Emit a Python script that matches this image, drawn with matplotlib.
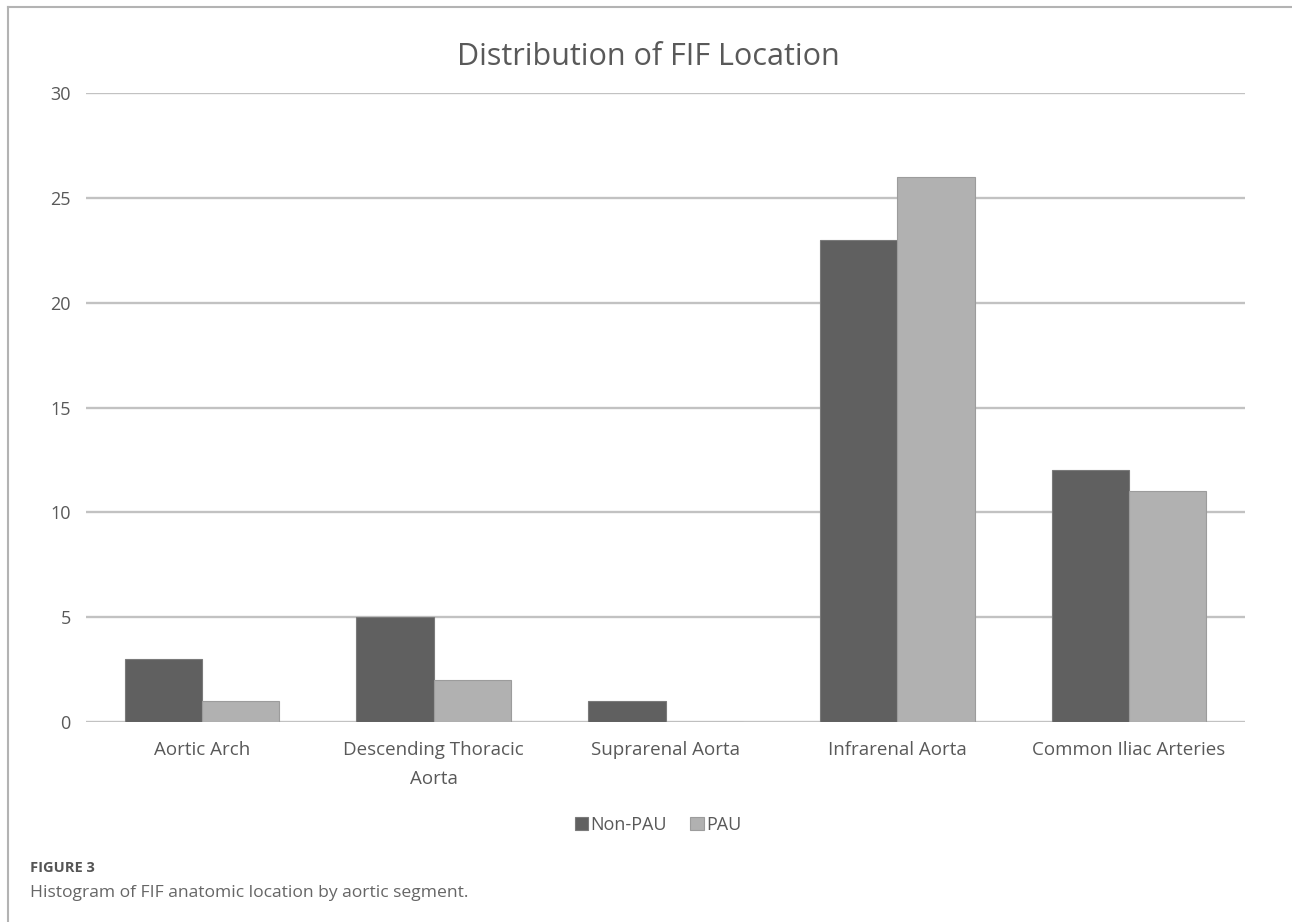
import matplotlib
matplotlib.use("Agg")
from matplotlib import pyplot as plt
from matplotlib.lines import Line2D
import numpy as np

categories = ["Aortic Arch", "Descending Thoracic\nAorta", "Suprarenal Aorta",
              "Infrarenal Aorta", "Common Iliac Arteries"]
non_pau = [3, 5, 1, 23, 12]
pau = [1, 2, 0, 26, 11]
series_names = ["Non-PAU", "PAU"]
y_ticks = [0, 5, 10, 15, 20, 25, 30]

TEXT = "#595959"
DARK = "#606060"
LIGHT = "#b1b1b1"
GRID = "#c2c2c2"

plt.rcParams['font.family'] = ['Open Sans', 'DejaVu Sans']

W, H = 1292, 922
fig = plt.figure(figsize=(W/100, H/100), dpi=100)
ax = fig.add_axes([86/W, (H-722)/H, (1245-86)/W, (722-93)/H])

x = np.arange(len(categories))
bw = 1/3
ax.bar(x - bw/2, non_pau, bw, color=DARK, edgecolor="#7a7a7a", linewidth=0.8,
       label=series_names[0], zorder=3)
ax.bar(x + bw/2, pau, bw, color=LIGHT, edgecolor="#9c9c9c", linewidth=0.8,
       label=series_names[1], zorder=3)

ax.set_xlim(-0.5, len(categories) - 0.5)
ax.set_ylim(0, 30)
ax.set_yticks(y_ticks)
ax.set_xticks(x)
ax.set_xticklabels(categories, fontsize=13.5, color=TEXT, linespacing=1.75)
ax.tick_params(axis='y', labelsize=13, labelcolor=TEXT, length=0, pad=11)
ax.tick_params(axis='x', length=0, pad=14)
for t in y_ticks:
    ax.axhline(t, color=GRID, linewidth=1.7, zorder=1)
for s in ax.spines.values():
    s.set_visible(False)

fig.text(648/W, (H-57)/H, "Distribution of FIF Location", fontsize=22,
         color=TEXT, ha='center', va='center')

leg = fig.legend(loc='center', bbox_to_anchor=(658/W, (H-825)/H), ncol=2,
                 frameon=False, fontsize=13, handlelength=0.75, handleheight=0.75,
                 handletextpad=0.12, columnspacing=1.3)
for t in leg.get_texts():
    t.set_color(TEXT)

# outer frame (top and left lines)
fig.add_artist(Line2D([8/W, 1], [(H-7)/H, (H-7)/H], color="#b3b3b3", linewidth=1.5))
fig.add_artist(Line2D([8/W, 8/W], [0, (H-7)/H], color="#b3b3b3", linewidth=1.5))

fig.text(30/W, (H-868)/H, "FIGURE 3", fontsize=10.5, fontweight='bold',
         color="#555555", va='center', ha='left')
fig.text(30/W, (H-893)/H, "Histogram of FIF anatomic location by aortic segment.",
         fontsize=12.6, color="#666666", va='center', ha='left')

fig.savefig("out.png", dpi=100)
